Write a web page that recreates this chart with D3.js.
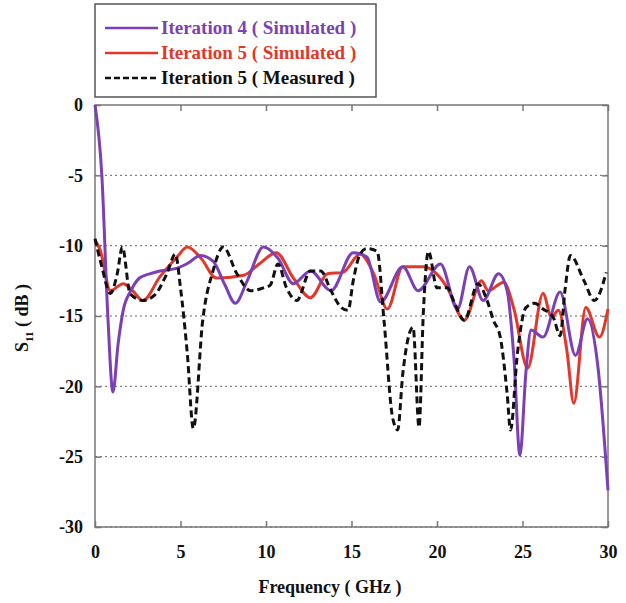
<!DOCTYPE html>
<html>
<head>
<meta charset="utf-8">
<script src="https://cdn.jsdelivr.net/npm/d3@7"></script>
<style>
  body { margin: 0; background: #fff; }
</style>
</head>
<body>
<div id="chart"></div>
<script>
// [frequency GHz, S11 dB]
var iter4Sim = [[0,0],[0.4,-5],[0.75,-15],[1.05,-20.4],[1.35,-17],[1.65,-14.6],[2.1,-13.2],[2.6,-12.3],[3.2,-12],[3.8,-11.8],[4.8,-11.6],[5.5,-11.2],[6.15,-10.7],[6.9,-11.1],[7.6,-12.8],[8.2,-14.1],[8.9,-12.5],[9.85,-10.1],[10.7,-10.9],[11.6,-12.7],[12.6,-11.8],[13.8,-13.2],[15.1,-10.5],[15.9,-10.8],[16.7,-14.0],[18.0,-11.5],[18.9,-13.2],[20.2,-11.3],[21.2,-14.5],[21.9,-11.5],[22.7,-13.9],[23.6,-12.0],[24.1,-13.2],[24.5,-18],[24.85,-24.9],[25.2,-19],[25.5,-16.0],[26.2,-16.5],[27.2,-13.3],[28.1,-17.8],[28.8,-15.2],[29.4,-18.5],[30,-27.4]];

var iter5Sim = [[0,-9.6],[0.3,-10.3],[0.9,-13.2],[1.65,-12.7],[2.2,-13.2],[2.8,-13.9],[3.8,-12.2],[4.8,-10.8],[5.4,-10.1],[6.2,-10.9],[7.1,-12.3],[8.7,-12.1],[9.6,-11.3],[10.6,-10.5],[11.6,-12.3],[12.6,-13.7],[13.6,-12.0],[14.5,-11.9],[15.5,-10.6],[16.3,-12],[17.1,-14.5],[18.0,-11.5],[19.2,-11.5],[20.2,-12.3],[20.6,-13.0],[21.6,-15.3],[22.6,-12.5],[23.0,-13.2],[23.9,-12.6],[24.5,-14.5],[25.3,-18.7],[26.2,-13.4],[26.7,-15.1],[27.1,-14.6],[27.6,-17.5],[28.0,-21.2],[28.7,-14.4],[29.5,-16.5],[30,-14.5]];

var iter5Meas = [[0,-9.5],[0.4,-11.5],[0.9,-13.4],[1.3,-12],[1.6,-10.1],[2.05,-13.4],[2.8,-13.9],[3.5,-13.5],[4.2,-12.0],[4.7,-10.6],[5.0,-13.0],[5.4,-17.7],[5.75,-23.0],[6.3,-15.3],[6.9,-11.8],[7.5,-10.1],[8.3,-12.0],[9.1,-13.2],[9.85,-13.0],[10.25,-12.8],[10.7,-11.3],[11.2,-13.0],[11.8,-13.9],[12.6,-11.8],[13.2,-11.8],[13.8,-13.2],[14.4,-14.4],[14.8,-14.6],[15.1,-12.5],[15.5,-10.6],[15.9,-10.2],[16.5,-10.4],[16.9,-15.3],[17.4,-22.2],[17.7,-23.1],[18.0,-19.1],[18.6,-15.8],[18.95,-22.9],[19.2,-14.8],[19.5,-10.4],[20.0,-13.0],[20.6,-13.0],[21.0,-14.0],[21.6,-15.3],[22.4,-12.7],[22.9,-13.8],[23.3,-15.3],[23.7,-16.5],[24.1,-20.5],[24.3,-23.1],[24.7,-17.7],[25.2,-14.4],[25.7,-14.1],[26.2,-14.5],[26.8,-15.1],[27.2,-16.4],[27.5,-13.0],[27.8,-10.7],[28.6,-12.5],[29.2,-13.9],[29.9,-11.9]];

var xTicks = [0, 5, 10, 15, 20, 25, 30];
var yTicks = [0, -5, -10, -15, -20, -25, -30];
var legendLabels = ["Iteration 4 ( Simulated )", "Iteration 5 ( Simulated )", "Iteration 5 ( Measured )"];

var svgWidth = 626, svgHeight = 603;
var margin = { top: 105, right: 18, bottom: 76, left: 95 };
var width = svgWidth - margin.left - margin.right;
var height = svgHeight - margin.top - margin.bottom;

var purple = "#7b3fb6", red = "#e2382b", black = "#111";
var serif = "'Liberation Serif', 'Times New Roman', serif";

var svg = d3.select("#chart").append("svg")
    .attr("width", svgWidth)
    .attr("height", svgHeight);

var chartGroup = svg.append("g")
    .attr("transform", `translate(${margin.left}, ${margin.top})`);

var x = d3.scaleLinear().domain([0, 30]).range([0, width]);
var y = d3.scaleLinear().domain([-30, 0]).range([height, 0]);

// dotted horizontal grid
chartGroup.selectAll(".grid")
    .data(yTicks.filter(d => d !== 0))
    .enter().append("line")
    .attr("x1", 0).attr("x2", width)
    .attr("y1", d => y(d)).attr("y2", d => y(d))
    .attr("stroke", "#666")
    .attr("stroke-width", 1)
    .attr("stroke-dasharray", "2,3");

// frame
chartGroup.append("rect")
    .attr("width", width).attr("height", height)
    .attr("fill", "none")
    .attr("stroke", "#777")
    .attr("stroke-width", 1.5);

// axes with inward ticks, plain hyphen for negatives
var fmt = d => String(d);
var xAxis = chartGroup.append("g")
    .attr("transform", `translate(0, ${height})`)
    .call(d3.axisBottom(x).tickValues(xTicks).tickFormat(fmt).tickSizeInner(-6).tickSizeOuter(0).tickPadding(18));
var xTop = chartGroup.append("g")
    .call(d3.axisTop(x).tickValues(xTicks).tickSizeInner(-6).tickSizeOuter(0).tickFormat(""));
var yAxis = chartGroup.append("g")
    .call(d3.axisLeft(y).tickValues(yTicks).tickFormat(fmt).tickSizeInner(-6).tickSizeOuter(0).tickPadding(12));
var yRight = chartGroup.append("g")
    .attr("transform", `translate(${width}, 0)`)
    .call(d3.axisRight(y).tickValues(yTicks).tickSizeInner(-6).tickSizeOuter(0).tickFormat(""));

[xAxis, xTop, yAxis, yRight].forEach(function (g) {
    g.attr("font-family", serif).attr("font-size", 18);
    g.select(".domain").remove();
    g.selectAll("line").attr("stroke", "#777").attr("stroke-width", 1.5);
    g.selectAll("text")
        .attr("fill", "#111")
        .attr("font-weight", "bold");
});

// lines
var line = d3.line()
    .x(d => x(d[0]))
    .y(d => y(d[1]))
    .curve(d3.curveMonotoneX);

chartGroup.append("path").datum(iter5Sim)
    .attr("d", line).attr("fill", "none")
    .attr("stroke", red).attr("stroke-width", 3);

chartGroup.append("path").datum(iter4Sim)
    .attr("d", line).attr("fill", "none")
    .attr("stroke", purple).attr("stroke-width", 3);

chartGroup.append("path").datum(iter5Meas)
    .attr("d", line).attr("fill", "none")
    .attr("stroke", black).attr("stroke-width", 3)
    .attr("stroke-dasharray", "7,4");

// axis labels
chartGroup.append("text")
    .attr("transform", `translate(${330 - margin.left}, ${height + 66})`)
    .attr("text-anchor", "middle")
    .attr("font-family", serif).attr("font-weight", "bold")
    .attr("font-size", 18)
    .attr("fill", "#111")
    .text("Frequency ( GHz )");

var yLabel = svg.append("text")
    .attr("transform", "translate(28, 318) rotate(-90)")
    .attr("text-anchor", "middle")
    .attr("font-family", serif).attr("font-weight", "bold")
    .attr("font-size", 18)
    .attr("fill", "#111");
yLabel.append("tspan").text("S");
yLabel.append("tspan").attr("dy", 5).attr("font-size", 11).text("11");
yLabel.append("tspan").attr("dy", -5).text(" ( dB )");

// legend
var legend = svg.append("g").attr("transform", "translate(95, 4)");
legend.append("rect")
    .attr("width", 281).attr("height", 93)
    .attr("fill", "#fff")
    .attr("stroke", "#555")
    .attr("stroke-width", 1.5);

var legendColors = [purple, red, black];
var legendDash = [null, null, "6,3"];
legendLabels.forEach(function (label, i) {
    var ly = 24 + i * 25;
    legend.append("line")
        .attr("x1", 10).attr("x2", 63)
        .attr("y1", ly).attr("y2", ly)
        .attr("stroke", legendColors[i])
        .attr("stroke-width", 2.5)
        .attr("stroke-dasharray", legendDash[i]);
    legend.append("text")
        .attr("x", 66).attr("y", ly + 6)
        .attr("font-family", serif).attr("font-weight", "bold")
        .attr("font-size", 19)
        .attr("fill", legendColors[i])
        .text(label);
});
</script>
</body>
</html>
